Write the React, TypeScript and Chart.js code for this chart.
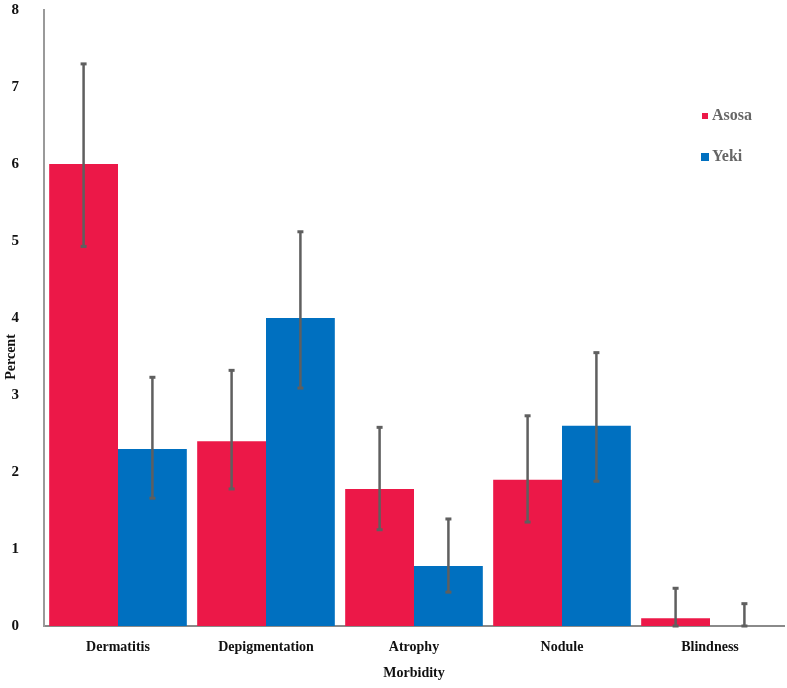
import React, { useEffect, useRef } from "react";
import { Chart, registerables } from "chart.js";

Chart.register(...registerables);

const categories = ["Dermatitis", "Depigmentation", "Atrophy", "Nodule", "Blindness"];
const asosaValues = [6.0, 2.4, 1.78, 1.9, 0.1];
const asosaLow = [4.93, 1.78, 1.25, 1.35, 0];
const asosaHigh = [7.3, 3.32, 2.58, 2.73, 0.49];
const yekiValues = [2.3, 4.0, 0.78, 2.6, 0];
const yekiLow = [1.66, 3.09, 0.44, 1.88, 0];
const yekiHigh = [3.23, 5.12, 1.39, 3.55, 0.29];
const seriesNames = ["Asosa", "Yeki"];
const yTicks = [0, 1, 2, 3, 4, 5, 6, 7, 8];
const yTitle = "Percent";
const xTitle = "Morbidity";

const RED = "#EC1848";
const BLUE = "#0070C0";
const FONT = "'Liberation Serif', 'Times New Roman', serif";

const errorBarPlugin = {
  id: "errorBars",
  afterDatasetsDraw(chart: any) {
    const ctx = chart.ctx;
    const y = chart.scales.y;
    const lows = [asosaLow, yekiLow];
    const highs = [asosaHigh, yekiHigh];
    ctx.save();
    ctx.strokeStyle = "#5f5f5f";
    ctx.fillStyle = "#5f5f5f";
    ctx.lineWidth = 2.5;
    chart.data.datasets.forEach((_: any, di: number) => {
      const meta = chart.getDatasetMeta(di);
      meta.data.forEach((bar: any, i: number) => {
        const x = bar.x;
        const yl = y.getPixelForValue(lows[di][i]);
        const yh = y.getPixelForValue(highs[di][i]);
        ctx.beginPath();
        ctx.moveTo(x, yl);
        ctx.lineTo(x, yh);
        ctx.stroke();
        ctx.fillRect(x - 3, yh - 1.5, 6, 3);
        ctx.fillRect(x - 3, yl - 1.5, 6, 3);
      });
    });
    ctx.restore();
  },
};

const legendPlugin = {
  id: "customLegend",
  afterDraw(chart: any) {
    const ctx = chart.ctx;
    ctx.save();
    ctx.font = `bold 16px ${FONT}`;
    ctx.textBaseline = "middle";
    const items = [
      { y: 116, size: 6 },
      { y: 157, size: 8 },
    ];
    chart.data.datasets.forEach((ds: any, i: number) => {
      const it = items[i];
      ctx.fillStyle = ds.backgroundColor;
      ctx.fillRect(705 - it.size / 2, it.y - it.size / 2, it.size, it.size);
      ctx.fillStyle = "#666";
      ctx.fillText(ds.label, 712, it.y);
    });
    // y-axis title
    ctx.translate(11, 357);
    ctx.rotate(-Math.PI / 2);
    ctx.textAlign = "center";
    ctx.fillStyle = "#111";
    ctx.font = `bold 14px ${FONT}`;
    ctx.fillText(yTitle, 0, 0);
    ctx.restore();
  },
};

export default function App() {
  const ref = useRef<HTMLCanvasElement | null>(null);
  useEffect(() => {
    if (!ref.current) return;
    const chart = new Chart(ref.current, {
      type: "bar",
      data: {
        labels: categories,
        datasets: [
          { label: seriesNames[0], data: asosaValues, backgroundColor: RED },
          { label: seriesNames[1], data: yekiValues, backgroundColor: BLUE },
        ],
      },
      options: {
        animation: false,
        responsive: true,
        maintainAspectRatio: false,
        layout: { padding: { top: 10, right: 3, left: 0, bottom: 0 } },
        plugins: { legend: { display: false }, tooltip: { enabled: false } },
        datasets: { bar: { categoryPercentage: 0.93, barPercentage: 1.0 } },
        scales: {
          x: {
            grid: { display: false },
            border: { display: true, color: "#8a8a8a", width: 2 },
            ticks: {
              color: "#111",
              font: { family: FONT, size: 14, weight: "bold" },
              padding: 5,
              maxRotation: 0,
              autoSkip: false,
            },
            title: {
              display: true,
              text: xTitle,
              color: "#111",
              font: { family: FONT, size: 14, weight: "bold" },
              padding: { top: 2, bottom: 6 },
            },
            afterFit(scale: any) {
              scale.height = 62;
              scale.paddingLeft = 0;
              scale.paddingRight = 0;
            },
          },
          y: {
            min: 0,
            max: 8,
            afterBuildTicks(scale: any) {
              scale.ticks = yTicks.map((v) => ({ value: v }));
            },
            grid: { display: false },
            border: { display: true, color: "#9a9a9a", width: 2 },
            ticks: {
              color: "#111",
              font: { family: FONT, size: 15, weight: "bold" },
              padding: 17,
            },
            afterFit(scale: any) {
              scale.width = 44;
              scale.paddingTop = 0;
              scale.paddingBottom = 0;
            },
          },
        },
      },
      plugins: [errorBarPlugin, legendPlugin],
    });
    return () => chart.destroy();
  }, []);
  return (
    <div style={{ position: "fixed", left: 0, top: 0, width: 787, height: 688, background: "#fff" }}>
      <canvas ref={ref} />
    </div>
  );
}
